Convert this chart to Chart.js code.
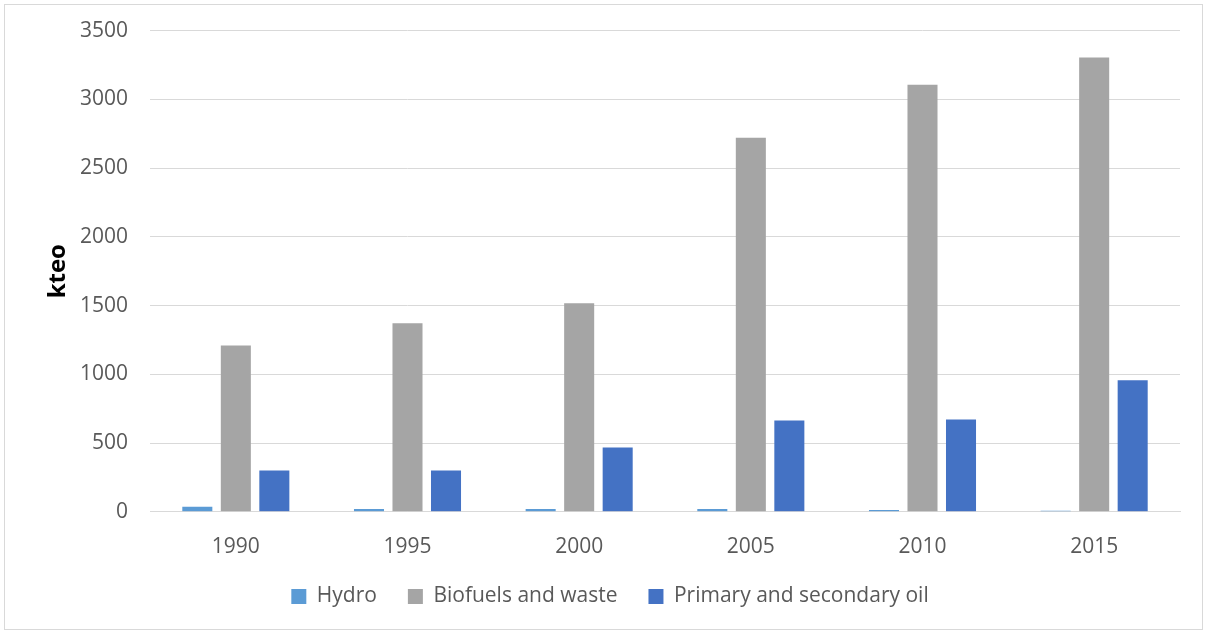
<!DOCTYPE html>
<html><head><meta charset="utf-8">
<script src="https://cdn.jsdelivr.net/npm/chart.js@4/dist/chart.umd.min.js"></script>
<style>
html,body{margin:0;padding:0;background:#fff;}
#wrap{position:absolute;left:0;top:0;width:1208px;height:635px;}
#frame{position:absolute;left:4px;top:4px;width:1199px;height:626px;border:1px solid #d9d9d9;box-sizing:border-box;pointer-events:none;}
canvas{display:block;}
</style></head>
<body>
<div id="wrap"><canvas id="c" width="1208" height="635"></canvas><div id="frame"></div></div>
<script>
const years = ['1990','1995','2000','2005','2010','2015'];
const hydro = [36, 20, 20, 20, 13, 7];
const biofuels = [1210, 1371, 1517, 2720, 3107, 3304];
const oil = [300, 300, 467, 664, 671, 957];
const yTicks = [0, 500, 1000, 1500, 2000, 2500, 3000, 3500];

const FONT = "'Open Sans', sans-serif";
new Chart(document.getElementById('c'), {
  type: 'bar',
  data: {
    labels: years,
    datasets: [
      {label: 'Hydro', data: hydro, backgroundColor: '#5b9bd5'},
      {label: 'Biofuels and waste', data: biofuels, backgroundColor: '#a5a5a5'},
      {label: 'Primary and secondary oil', data: oil, backgroundColor: '#4472c4'}
    ]
  },
  options: {
    responsive: false,
    animation: false,
    devicePixelRatio: 1,
    layout: {padding: {left: 40, right: 28, top: 5, bottom: 18}},
    datasets: {bar: {categoryPercentage: 0.673, barPercentage: 0.78}},
    plugins: {
      legend: {
        position: 'bottom',
        labels: {font: {family: FONT, size: 21}, color: '#595959', boxWidth: 15, boxHeight: 15, padding: 31}
      },
      tooltip: {enabled: false}
    },
    scales: {
      x: {
        grid: {display: false},
        border: {color: '#d9d9d9', width: 1},
        ticks: {font: {family: FONT, size: 21}, color: '#595959', padding: 15},
        afterFit: (s) => { s.height = s.height - 20; }
      },
      y: {
        min: 0, max: 3500,
        afterBuildTicks: (s) => { s.ticks = yTicks.map(v => ({value: v})); },
        afterFit: (s) => { s.width = 110; },
        grid: {color: '#d9d9d9', drawTicks: true, tickLength: 4, tickColor: 'rgba(0,0,0,0)'},
        border: {display: false},
        ticks: {font: {family: FONT, size: 21}, color: '#595959', padding: 18, callback: (v) => String(v)},
        title: {display: true, text: 'kteo', font: {family: FONT, size: 24, weight: 'bold'}, color: '#000'}
      }
    }
  }
});
</script>
</body></html>
